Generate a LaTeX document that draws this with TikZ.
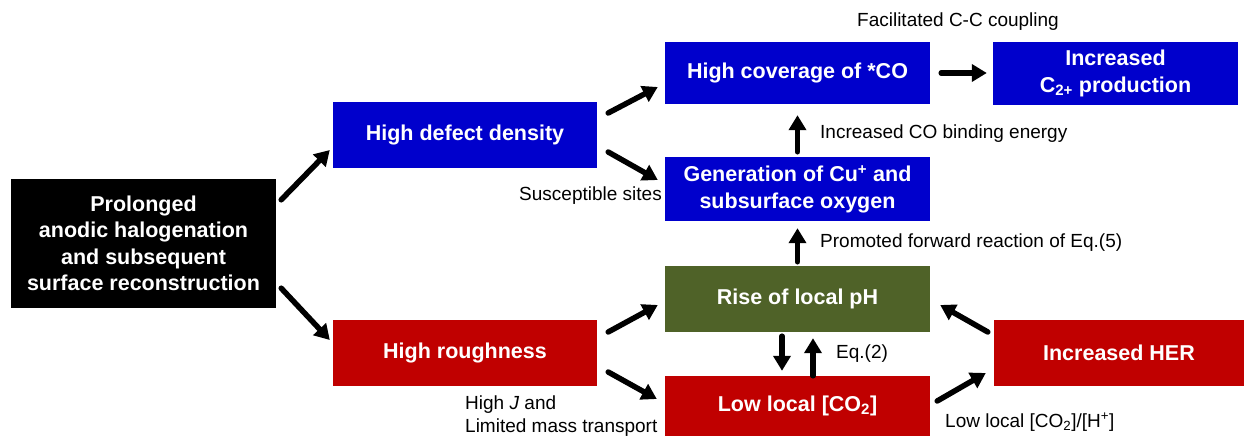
\documentclass[tikz,border=0pt]{standalone}
\usepackage{fontspec}
\setmainfont{Liberation Sans}
\usetikzlibrary{calc,arrows.meta}
\definecolor{bblue}{RGB}{0,0,204}
\definecolor{bred}{RGB}{192,0,0}
\definecolor{bgreen}{RGB}{79,98,40}
\tikzset{
  box/.style={draw=none, inner sep=0pt, align=center, text=white,
    font=\bfseries\fontsize{21.5}{26.5}\selectfont},
  lbl/.style={inner sep=0pt, font=\fontsize{19}{23}\selectfont, text=black},
  arr/.style={line width=5.5pt, -{Triangle[length=15pt,width=17pt]}, line cap=round}
}
\begin{document}
\begin{tikzpicture}[x=1pt,y=-1pt]
\useasboundingbox (0,0) rectangle (1248,438);
% boxes
\node[box, fill=black, minimum width=265, minimum height=129] (blk) at (143.5,243.5)
  {Prolonged\\anodic halogenation\\and subsequent\\surface reconstruction};
\node[box, fill=bblue, minimum width=264, minimum height=66] (hdd) at (465,135) {High defect density};
\node[box, fill=bblue, minimum width=265, minimum height=62] (hco) at (797.5,73) {High coverage of *CO};
\node[box, fill=bblue, minimum width=245, minimum height=63] (c2) at (1115.5,73.5) {Increased\\C\textsubscript{2+} production};
\node[box, fill=bblue, minimum width=265, minimum height=64] (gen) at (797.5,189) {Generation of Cu\textsuperscript{+} and\\subsurface oxygen};
\node[box, fill=bgreen, minimum width=265, minimum height=66] (rise) at (797.5,299) {Rise of local pH};
\node[box, fill=bred, minimum width=265, minimum height=60] (low) at (797.5,406) {Low local [CO\textsubscript{2}]};
\node[box, fill=bred, minimum width=264, minimum height=66] (hr) at (465,353) {High roughness};
\node[box, fill=bred, minimum width=250, minimum height=66] (her) at (1119,353) {Increased HER};
% labels
\node[lbl] (l1) at (958,22) {Facilitated C-C coupling};
\node[lbl, anchor=west] (l2) at (820,134) {Increased CO binding energy};
\node[lbl, anchor=east] (l3) at (662,196) {Susceptible sites};
\node[lbl, anchor=west] (l4) at (820,243) {Promoted forward reaction of Eq.(5)};
\node[lbl, anchor=west] (l5) at (836,354) {Eq.(2)};
\node[lbl, anchor=west, align=left] (l6) at (465,416) {High \textit{J} and\\Limited mass transport};
\node[lbl, anchor=west] (l7) at (945,422) {Low local [CO\textsubscript{2}]/[H\textsuperscript{+}]};
% arrows
\draw[arr] ($(blk.north east)+(5,21)$) -- ($(hdd.west)+(-3,15)$);
\draw[arr] ($(blk.south east)+(5,-20)$) -- ($(hr.west)+(-3,-13)$);
\draw[arr] ($(hdd.east)+(11,-22)$) -- ($(hco.west)+(-7,14)$);
\draw[arr] ($(hdd.east)+(11,17)$) -- ($(gen.west)+(-7,-9)$);
\draw[arr] ($(hco.east)+(11,0)$) -- ($(c2.west)+(-6,-0.5)$);
\draw[arr] ($(gen.north)+(0,-5)$) -- ($(hco.south)+(0,11)$);
\draw[arr] ($(rise.north)+(0,-4)$) -- ($(gen.south)+(0,7)$);
\draw[arr] ($(rise.south)+(-15.5,4)$) -- ($(low.north)+(-15.5,-5)$);
\draw[arr] ($(low.north)+(15.5,0)$) -- ($(rise.south)+(15.5,6)$);
\draw[arr] ($(hr.east)+(11,-21)$) -- ($(rise.west)+(-7,6)$);
\draw[arr] ($(hr.east)+(11,19)$) -- ($(low.west)+(-8,-7)$);
\draw[arr] ($(low.east)+(7,-5)$) -- ($(her.west)+(-8,20)$);
\draw[arr] ($(her.west)+(-6,-21)$) -- ($(rise.east)+(10,6)$);
\end{tikzpicture}
\end{document}
